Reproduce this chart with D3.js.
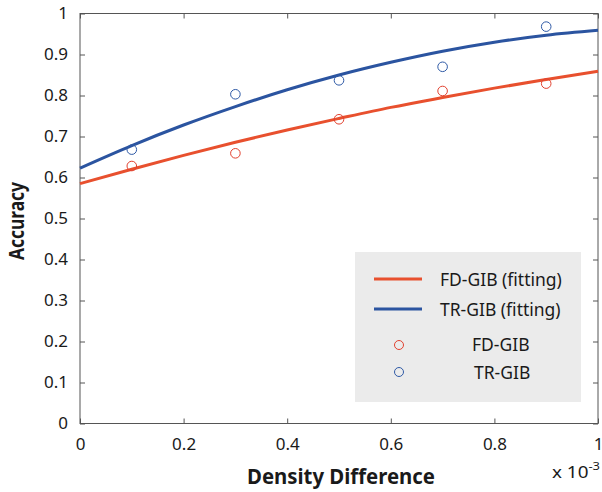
<!DOCTYPE html>
<html><head><meta charset="utf-8">
<script src="https://cdn.jsdelivr.net/npm/d3@7"></script>
<style>body{margin:0;background:#fff}svg{display:block}text{font-family:"Noto Sans",sans-serif;fill:#1a1a1a}</style>
</head><body><svg id="c" width="602" height="492"></svg>
<script>
const xTicks = [0, 0.2, 0.4, 0.6, 0.8, 1];
const xTickLabels = ["0", "0.2", "0.4", "0.6", "0.8", "1"];
const yTicks = [0, 0.1, 0.2, 0.3, 0.4, 0.5, 0.6, 0.7, 0.8, 0.9, 1];
const yTickLabels = ["0", "0.1", "0.2", "0.3", "0.4", "0.5", "0.6", "0.7", "0.8", "0.9", "1"];
const pointX = [0.1, 0.3, 0.5, 0.7, 0.9];
const fdValues = [0.628, 0.659, 0.742, 0.811, 0.829];
const trValues = [0.668, 0.803, 0.837, 0.870, 0.968];
const fitX = [0, 0.1, 0.2, 0.3, 0.4, 0.5, 0.6, 0.7, 0.8, 0.9, 1];
const fdFit = [0.585, 0.620, 0.654, 0.686, 0.716, 0.744, 0.771, 0.795, 0.818, 0.839, 0.859];
const trFit = [0.623, 0.678, 0.728, 0.773, 0.814, 0.850, 0.881, 0.908, 0.930, 0.947, 0.959];
const legendLabels = ["FD-GIB (fitting)", "TR-GIB (fitting)", "FD-GIB", "TR-GIB"];

const red = "#e8502e", blue = "#2b54a0", redM = "#e2412f", blueM = "#2f5aa6";
const svg = d3.select("#c");
const L = 80, R = 598, T = 13.5, B = 423.5;
const x = d3.scaleLinear().domain([0, 1]).range([L, R]);
const y = d3.scaleLinear().domain([0, 1]).range([B, T]);
const axisCol = "#555";

// frame and ticks
const axG = svg.append("g");
axG.append("rect").attr("x", L).attr("y", T).attr("width", R - L).attr("height", B - T)
  .attr("fill", "none").attr("stroke", axisCol).attr("stroke-width", 1);
axG.append("g").attr("transform", `translate(0,${B})`)
  .call(d3.axisBottom(x).tickValues(xTicks).tickFormat((d, i) => xTickLabels[i]).tickSizeInner(-5).tickSizeOuter(0).tickPadding(14));
axG.append("g").attr("transform", `translate(0,${T})`)
  .call(d3.axisTop(x).tickValues(xTicks).tickFormat("").tickSizeInner(-5).tickSizeOuter(0));
axG.append("g").attr("transform", `translate(${L},0)`)
  .call(d3.axisLeft(y).tickValues(yTicks).tickFormat((d, i) => yTickLabels[i]).tickSizeInner(-5).tickSizeOuter(0).tickPadding(12));
axG.append("g").attr("transform", `translate(${R},0)`)
  .call(d3.axisRight(y).tickValues(yTicks).tickFormat("").tickSizeInner(-5).tickSizeOuter(0));
axG.selectAll(".domain").remove();
axG.selectAll(".tick line").attr("stroke", axisCol);
axG.selectAll(".tick text").attr("font-size", 17).attr("fill", "#1a1a1a").style("font-family", '"Noto Sans",sans-serif');

// fitted lines
const line = d3.line().x(d => x(d[0])).y(d => y(d[1])).curve(d3.curveMonotoneX);
svg.append("path").datum(fitX.map((v, i) => [v, fdFit[i]])).attr("d", line)
  .attr("fill", "none").attr("stroke", red).attr("stroke-width", 3);
svg.append("path").datum(fitX.map((v, i) => [v, trFit[i]])).attr("d", line)
  .attr("fill", "none").attr("stroke", blue).attr("stroke-width", 3);

// points
svg.append("g").selectAll("circle").data(pointX.map((v, i) => [v, fdValues[i]])).join("circle")
  .attr("cx", d => x(d[0])).attr("cy", d => y(d[1])).attr("r", 4.8)
  .attr("fill", "none").attr("stroke", redM).attr("stroke-width", 1);
svg.append("g").selectAll("circle").data(pointX.map((v, i) => [v, trValues[i]])).join("circle")
  .attr("cx", d => x(d[0])).attr("cy", d => y(d[1])).attr("r", 4.8)
  .attr("fill", "none").attr("stroke", blueM).attr("stroke-width", 1);

// legend
const lg = svg.append("g");
lg.append("rect").attr("x", 355).attr("y", 252).attr("width", 226).attr("height", 150).attr("fill", "#ebebeb");
const lx1 = 374, lx2 = 422;
lg.append("line").attr("x1", lx1).attr("x2", lx2).attr("y1", 279).attr("y2", 279).attr("stroke", red).attr("stroke-width", 3);
lg.append("line").attr("x1", lx1).attr("x2", lx2).attr("y1", 309).attr("y2", 309).attr("stroke", blue).attr("stroke-width", 3);
lg.append("circle").attr("cx", 399).attr("cy", 345).attr("r", 4.5).attr("fill", "none").attr("stroke", redM);
lg.append("circle").attr("cx", 399).attr("cy", 372).attr("r", 4.5).attr("fill", "none").attr("stroke", blueM);
const lt = [[440, 286, legendLabels[0]], [440, 316, legendLabels[1]], [472, 351, legendLabels[2]], [474, 379, legendLabels[3]]];
lg.selectAll("text").data(lt).join("text").attr("x", d => d[0]).attr("y", d => d[1])
  .attr("font-size", 17.5).text(d => d[2]);

// axis titles
svg.append("text").attr("x", 341).attr("y", 484).attr("text-anchor", "middle")
  .attr("font-size", 22).attr("font-weight", "bold").attr("textLength", 188).attr("lengthAdjust", "spacingAndGlyphs").text("Density Difference");
svg.append("text").attr("transform", "translate(24,221) rotate(-90)").attr("text-anchor", "middle")
  .attr("font-size", 22).attr("font-weight", "bold").attr("textLength", 78).attr("lengthAdjust", "spacingAndGlyphs").text("Accuracy");
const ex = svg.append("text").attr("x", 552).attr("y", 478).attr("font-size", 16)
  .attr("textLength", 48).attr("lengthAdjust", "spacingAndGlyphs");
ex.append("tspan").text("x 10");
ex.append("tspan").attr("dy", -8).attr("font-size", 11).text("-3");
</script></body></html>
